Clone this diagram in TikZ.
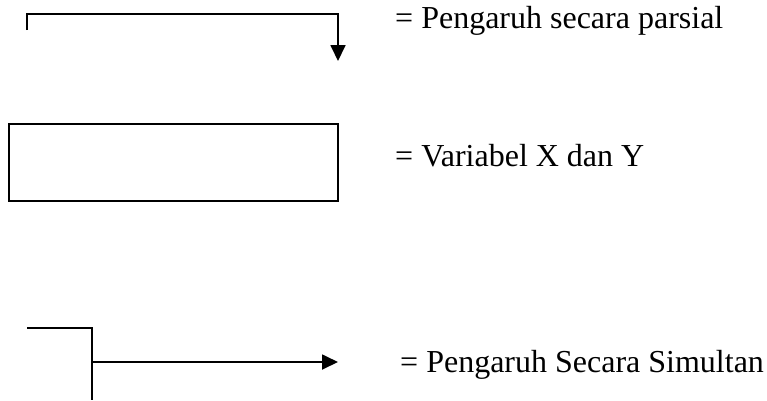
\documentclass[tikz,border=0pt]{standalone}
\usepackage{fontspec}
\setmainfont{Liberation Serif}
\usetikzlibrary{arrows.meta}
\begin{document}
\begin{tikzpicture}[x=1pt,y=-1pt,
  line/.style={line width=1.8pt, line join=miter},
  arr/.style={line, -{Triangle[width=15pt,length=16pt]}},
  lbl/.style={anchor=base west, inner sep=0pt, font=\fontsize{32}{38}\selectfont}]
\useasboundingbox (0,0) rectangle (767,400);
% partial influence glyph
\coordinate (p0) at (27,30);
\coordinate (p1) at (27,14);
\coordinate (p2) at (338,14);
\coordinate (p3) at (338,61);
\draw[arr] (p0) -- (p1) -- (p2) -- (p3);
\node[lbl] (t1) at (395,28) {= Pengaruh secara parsial};
% variable box
\node[draw, line width=2pt, minimum width=329pt, minimum height=77pt, inner sep=0pt, outer sep=0pt] (box) at (173.5,162.5) {};
\node[lbl] (t2) at (395,166) {= Variabel X dan Y};
% simultaneous influence glyph
\coordinate (q0) at (27,328);
\coordinate (q1) at (92,328);
\coordinate (q2) at (92,400);
\coordinate (q3) at (92,362);
\coordinate (q4) at (338,362);
\draw[line] (q0) -- (q1) -- (q2);
\draw[arr] (q3) -- (q4);
\node[lbl] (t3) at (400,372) {= Pengaruh Secara Simultan};
\end{tikzpicture}
\end{document}
